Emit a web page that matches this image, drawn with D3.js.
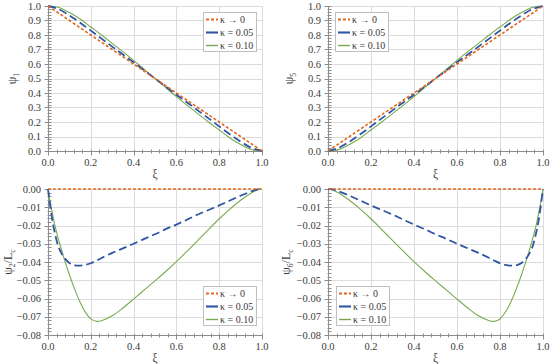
<!doctype html>
<html>
<head>
<meta charset="utf-8">
<title>psi</title>
<style>
body { margin: 0; background: #fff; }
text { font-family: "Liberation Serif", "DejaVu Serif", serif; fill: #3a3a3a; }
</style>
<script src="https://cdn.jsdelivr.net/npm/d3@7"></script>
</head>
<body>
<script>
// ---- data ----
var xiTop = [0, 0.05, 0.1, 0.15, 0.2, 0.25, 0.3, 0.35, 0.4, 0.45, 0.5, 0.55, 0.6, 0.65, 0.7, 0.75, 0.8, 0.85, 0.9, 0.95, 1];
var psi1_k0  = [1, 0.95, 0.9, 0.85, 0.8, 0.75, 0.7, 0.65, 0.6, 0.55, 0.5, 0.45, 0.4, 0.35, 0.3, 0.25, 0.2, 0.15, 0.1, 0.05, 0];
var psi1_k05 = [1, 0.978, 0.935, 0.885, 0.83, 0.775, 0.72, 0.665, 0.612, 0.556, 0.5, 0.444, 0.388, 0.335, 0.28, 0.225, 0.17, 0.115, 0.065, 0.022, 0];
var psi1_k10 = [1, 0.99, 0.955, 0.91, 0.855, 0.8, 0.742, 0.685, 0.625, 0.563, 0.5, 0.437, 0.375, 0.315, 0.258, 0.2, 0.145, 0.09, 0.045, 0.01, 0];
var psi5_k0  = [0, 0.05, 0.1, 0.15, 0.2, 0.25, 0.3, 0.35, 0.4, 0.45, 0.5, 0.55, 0.6, 0.65, 0.7, 0.75, 0.8, 0.85, 0.9, 0.95, 1];
var psi5_k05 = [0, 0.022, 0.065, 0.115, 0.17, 0.225, 0.28, 0.335, 0.388, 0.444, 0.5, 0.556, 0.612, 0.665, 0.72, 0.775, 0.83, 0.885, 0.935, 0.978, 1];
var psi5_k10 = [0, 0.01, 0.045, 0.09, 0.145, 0.2, 0.258, 0.315, 0.375, 0.437, 0.5, 0.563, 0.625, 0.685, 0.742, 0.8, 0.855, 0.91, 0.955, 0.99, 1];

var xiBot2 = [0, 0.01, 0.02, 0.03, 0.05, 0.075, 0.1, 0.125, 0.15, 0.175, 0.2, 0.225, 0.25, 0.3, 0.35, 0.4, 0.45, 0.5, 0.55, 0.6, 0.65, 0.7, 0.75, 0.8, 0.85, 0.9, 0.95, 0.98, 1];
var psi2_k0  = [0, 0, 0, 0, 0, 0, 0, 0, 0, 0, 0, 0, 0, 0, 0, 0, 0, 0, 0, 0, 0, 0, 0, 0, 0, 0, 0, 0, 0];
var psi2_k05 = [0, -0.009, -0.017, -0.023, -0.032, -0.0375, -0.0405, -0.0418, -0.042, -0.0416, -0.0407, -0.0393, -0.0378, -0.035, -0.0325, -0.030, -0.0273, -0.0248, -0.022, -0.0195, -0.0168, -0.014, -0.0115, -0.009, -0.0063, -0.0037, -0.0013, -0.0002, 0];
var psi2_k10 = [0, -0.007, -0.013, -0.019, -0.028, -0.038, -0.047, -0.055, -0.062, -0.0675, -0.0712, -0.0725, -0.0722, -0.0695, -0.0652, -0.0603, -0.0553, -0.0503, -0.0452, -0.0398, -0.0341, -0.0282, -0.0222, -0.0163, -0.011, -0.0062, -0.0022, -0.0004, 0];

var xiBot6 = [0, 0.02, 0.05, 0.1, 0.15, 0.2, 0.25, 0.3, 0.35, 0.4, 0.45, 0.5, 0.55, 0.6, 0.65, 0.7, 0.75, 0.775, 0.8, 0.825, 0.85, 0.875, 0.9, 0.925, 0.95, 0.97, 0.98, 0.99, 1];
var psi6_k0  = [0, 0, 0, 0, 0, 0, 0, 0, 0, 0, 0, 0, 0, 0, 0, 0, 0, 0, 0, 0, 0, 0, 0, 0, 0, 0, 0, 0, 0];
var psi6_k05 = [0, -0.0002, -0.0013, -0.0037, -0.0063, -0.009, -0.0115, -0.014, -0.0168, -0.0195, -0.022, -0.0248, -0.0273, -0.030, -0.0325, -0.035, -0.0378, -0.0393, -0.0407, -0.0416, -0.042, -0.0418, -0.0405, -0.0375, -0.032, -0.023, -0.017, -0.009, 0];
var psi6_k10 = [0, -0.0004, -0.0022, -0.0062, -0.011, -0.0163, -0.0222, -0.0282, -0.0341, -0.0398, -0.0452, -0.0503, -0.0553, -0.0603, -0.0652, -0.0695, -0.0722, -0.0725, -0.0712, -0.0675, -0.062, -0.055, -0.047, -0.038, -0.028, -0.019, -0.013, -0.007, 0];

var legendLabels = ["\u03ba \u2192 0", "\u03ba = 0.05", "\u03ba = 0.10"];
var colors = ["#e3661b", "#2f55a4", "#79a94f"];
var dashes = ["3,2", "8,4", null];
var widths = [1.6, 1.8, 1.1];

var W = 550, H = 364;
var svg = d3.select("body").append("svg").attr("width", W).attr("height", H);

var panels = [
    { x0: 48, x1: 262, y0: 6, y1: 151, xi: xiTop, series: [psi1_k0, psi1_k05, psi1_k10], dom: [0, 1], major: 0.1, minor: 0.02, fmt: ".1f", lab: ["\u03c8", "1", ""], labX: 12, legX: 203, legY: 12 },
    { x0: 328, x1: 543, y0: 6, y1: 151, xi: xiTop, series: [psi5_k0, psi5_k05, psi5_k10], dom: [0, 1], major: 0.1, minor: 0.02, fmt: ".1f", lab: ["\u03c8", "5", ""], labX: 289, legX: 335, legY: 12 },
    { x0: 48, x1: 262, y0: 189, y1: 335, xi: xiBot2, series: [psi2_k0, psi2_k05, psi2_k10], dom: [-0.08, 0], major: 0.01, minor: 0.002, fmt: ".2f", lab: ["\u03c8", "2", "c"], labX: 8, legX: 203, legY: 286 },
    { x0: 328, x1: 543, y0: 189, y1: 335, xi: xiBot6, series: [psi6_k0, psi6_k05, psi6_k10], dom: [-0.08, 0], major: 0.01, minor: 0.002, fmt: ".2f", lab: ["\u03c8", "6", "c"], labX: 286, legX: 336, legY: 286 }
];

panels.forEach(function(p) {
    var g = svg.append("g");
    var x = d3.scaleLinear().domain([0, 1]).range([p.x0, p.x1]);
    var y = d3.scaleLinear().domain(p.dom).range([p.y1, p.y0]);
    var nMaj = Math.round((p.dom[1] - p.dom[0]) / p.major);
    var yMaj = d3.range(nMaj + 1).map(function(i) { return p.dom[0] + i * p.major; });
    var nMin = Math.round((p.dom[1] - p.dom[0]) / p.minor);
    var yMin = d3.range(nMin + 1).map(function(i) { return p.dom[0] + i * p.minor; });
    var xMaj = d3.range(6).map(function(i) { return i * 0.2; });
    var xMin = d3.range(26).map(function(i) { return i * 0.04; });

    // grid
    g.selectAll(".gy").data(yMaj).enter().append("line")
        .attr("x1", p.x0).attr("x2", p.x1)
        .attr("y1", function(d) { return Math.round(y(d)) + 0.5; })
        .attr("y2", function(d) { return Math.round(y(d)) + 0.5; })
        .attr("stroke", "#dcdcdc").attr("stroke-width", 1);
    g.selectAll(".gx").data(xMaj.slice(1)).enter().append("line")
        .attr("y1", p.y0).attr("y2", p.y1)
        .attr("x1", function(d) { return Math.round(x(d)) + 0.5; })
        .attr("x2", function(d) { return Math.round(x(d)) + 0.5; })
        .attr("stroke", "#dcdcdc").attr("stroke-width", 1);

    // axes
    var ax = "#8c8c8c";
    var xAxisY = Math.round(p.y1) + 0.5;
    var yAxisX = Math.round(p.x0) + 0.5;
    g.append("line").attr("x1", p.x0).attr("x2", p.x1).attr("y1", xAxisY).attr("y2", xAxisY).attr("stroke", ax);
    g.append("line").attr("x1", yAxisX).attr("x2", yAxisX).attr("y1", p.y0).attr("y2", p.y1).attr("stroke", ax);
    g.selectAll(".mx").data(xMin).enter().append("line")
        .attr("x1", function(d) { return Math.round(x(d)) + 0.5; })
        .attr("x2", function(d) { return Math.round(x(d)) + 0.5; })
        .attr("y1", xAxisY - 2).attr("y2", xAxisY + 2).attr("stroke", ax);
    g.selectAll(".my").data(yMin).enter().append("line")
        .attr("y1", function(d) { return Math.round(y(d)) + 0.5; })
        .attr("y2", function(d) { return Math.round(y(d)) + 0.5; })
        .attr("x1", yAxisX - 1).attr("x2", yAxisX + 3).attr("stroke", ax);
    g.selectAll(".Mx").data(xMaj).enter().append("line")
        .attr("x1", function(d) { return Math.round(x(d)) + 0.5; })
        .attr("x2", function(d) { return Math.round(x(d)) + 0.5; })
        .attr("y1", xAxisY).attr("y2", xAxisY + 4).attr("stroke", ax);
    g.selectAll(".My").data(yMaj).enter().append("line")
        .attr("y1", function(d) { return Math.round(y(d)) + 0.5; })
        .attr("y2", function(d) { return Math.round(y(d)) + 0.5; })
        .attr("x1", yAxisX - 4).attr("x2", yAxisX).attr("stroke", ax);

    // tick labels
    var fmt = d3.format(p.fmt);
    var fmtX = d3.format(".1f");
    g.selectAll(".tx").data(xMaj).enter().append("text")
        .attr("x", function(d) { return x(d); }).attr("y", p.y1 + 15)
        .attr("text-anchor", "middle").attr("font-size", 10.5)
        .text(function(d) { return fmtX(d); });
    g.selectAll(".ty").data(yMaj).enter().append("text")
        .attr("x", p.x0 - 7).attr("y", function(d) { return y(d) + 3.5; })
        .attr("text-anchor", "end").attr("font-size", 10.5)
        .text(function(d) { return fmt(Math.abs(d) < 1e-9 ? 0 : d); });

    // axis titles
    g.append("text").attr("x", (p.x0 + p.x1) / 2).attr("y", p.y1 + 27)
        .attr("text-anchor", "middle").attr("font-size", 11.5).text("\u03be");
    var t = g.append("text")
        .attr("transform", "translate(" + (p.labX + 4) + "," + ((p.y0 + p.y1) / 2) + ") rotate(-90)")
        .attr("text-anchor", "middle").attr("font-size", 12);
    t.append("tspan").text(p.lab[0]);
    t.append("tspan").attr("font-size", 7.5).attr("dy", 2.5).text(p.lab[1]);
    if (p.lab[2]) {
        t.append("tspan").attr("dy", -2.5).text("/L");
        t.append("tspan").attr("font-size", 7.5).attr("dy", 2.5).text(p.lab[2]);
    }

    // curves
    var line = d3.line()
        .x(function(d) { return x(d[0]); })
        .y(function(d) { return y(d[1]); })
        .curve(d3.curveCatmullRom.alpha(0.5));
    [2, 1, 0].forEach(function(k) {
        var pts = p.xi.map(function(v, i) { return [v, p.series[k][i]]; });
        g.append("path").attr("d", line(pts))
            .attr("fill", "none").attr("stroke", colors[k])
            .attr("stroke-width", widths[k])
            .attr("stroke-dasharray", dashes[k]);
    });

    // legend
    var lg = g.append("g").attr("transform", "translate(" + p.legX + "," + p.legY + ")");
    lg.append("rect").attr("x", 0.5).attr("y", 0.5).attr("width", 53).attr("height", 39)
        .attr("fill", "#fff").attr("stroke", "#bfbfbf");
    legendLabels.forEach(function(l, k) {
        var yy = 7.5 + k * 13;
        lg.append("line").attr("x1", 3).attr("x2", 15).attr("y1", yy).attr("y2", yy)
            .attr("stroke", colors[k]).attr("stroke-width", widths[k] + 0.3)
            .attr("stroke-dasharray", k === 1 ? "12,0" : dashes[k]);
        lg.append("text").attr("x", 17).attr("y", yy + 3.5)
            .attr("font-size", 10).text(l);
    });
});
</script>
</body>
</html>
